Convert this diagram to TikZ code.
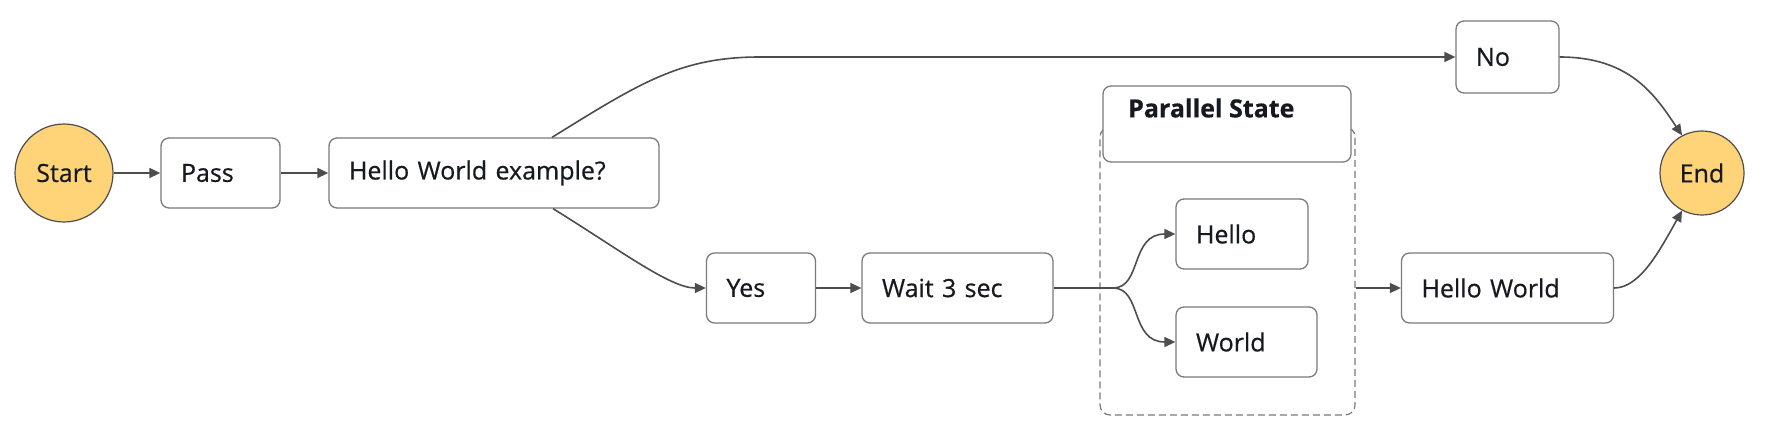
\documentclass[tikz,border=0pt]{standalone}
\usepackage{fontspec}
\setmainfont{Open Sans}[FakeBold=0.5]
\usetikzlibrary{arrows.meta}
\definecolor{termfill}{HTML}{FFD479}
\definecolor{edgec}{HTML}{4D4D4D}
\definecolor{boxc}{HTML}{7A7A7A}
\definecolor{txt}{HTML}{16191F}
\begin{document}
\begin{tikzpicture}[x=1pt,y=-1pt, font=\fontsize{25}{30}\selectfont,
 state/.style={draw=boxc, line width=1.3pt, rounded corners=8pt, fill=white, minimum height=70pt, inner xsep=20pt, inner ysep=0pt, align=left, text=txt},
 term/.style={circle, draw=edgec, line width=1.2pt, fill=termfill, inner sep=0pt, text=txt},
 link/.style={draw=edgec, line width=1.6pt},
 flow/.style={link, -{Triangle[length=11pt,width=10pt]}},
 container/.style={draw=boxc, line width=1.2pt, dashed, dash pattern=on 7pt off 4pt, rounded corners=10pt},
]
\useasboundingbox (0,0) rectangle (1766,430);
% parallel container
\node[container, minimum width=255pt, minimum height=288pt] (pbox) at (1227.5,271) {};
\node[state, minimum width=248pt, minimum height=76pt, inner sep=0pt] (phead) at (1227,124) {};
\node[anchor=west, text=txt, font=\fontsize{25}{28}\selectfont\bfseries, inner sep=0pt] (ptitle) at (1128,108) {Parallel State};

\node[term, minimum size=98pt] (start) at (64,173) {Start};
\node[state, text width=79pt] (pass) at (220.5,173) {Pass};
\node[state, text width=290pt] (hwe) at (494,173) {Hello World example?};
\node[state, text width=63pt, minimum height=72pt] (no) at (1507.5,57) {No};
\node[state, text width=69pt] (yes) at (761,288) {Yes};
\node[state, text width=151pt] (wait) at (957.5,288) {Wait 3 sec};
\node[state, text width=92pt] (hello) at (1242,234) {Hello};
\node[state, text width=101pt] (world) at (1246.5,342) {World};
\node[state, text width=172pt] (hw) at (1507.5,288) {Hello World};
\node[term, minimum size=84pt] (end) at (1702,173) {End};
\coordinate (fork) at (1113,288);

\draw[flow] (start) -- (pass);
\draw[flow] (pass) -- (hwe);
\draw[flow] ([xshift=58pt]hwe.north) .. controls (640,83) and (680,57) .. (760,57) -- (no.west);
\draw[flow] ([xshift=59pt]hwe.south) .. controls (620,250) and (670,288) .. (yes.west);
\draw[flow] (yes) -- (wait);
\draw[link] (wait.east) -- (fork);
\draw[flow] (fork) .. controls (1142,288) and (1130,234) .. (hello.west);
\draw[flow] (fork) .. controls (1142,288) and (1130,342) .. (world.west);
\draw[flow] (pbox.east |- hw.west) -- (hw.west);
\draw[flow] (no.east) .. controls (1630,57) and (1655,95) .. (end.118);
\draw[flow] (hw.east) .. controls (1640,288) and (1660,250) .. (end.242);
\end{tikzpicture}
\end{document}
